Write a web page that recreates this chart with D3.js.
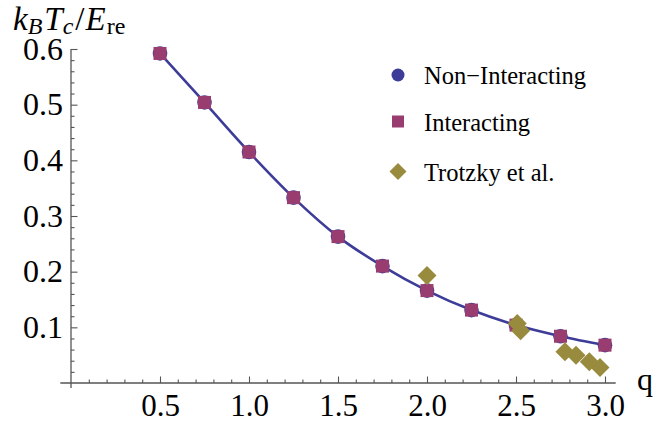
<!DOCTYPE html>
<html>
<head>
<meta charset="utf-8">
<script src="https://cdn.jsdelivr.net/npm/d3@7"></script>
<style>
  body { margin: 0; background: #fff; }
  svg { display: block; }
</style>
</head>
<body>
<svg></svg>
<script>
const width = 653;
const height = 427;
const serif = 'Liberation Serif';

// data
const qValues = [0.5, 0.75, 1.0, 1.25, 1.5, 1.75, 2.0, 2.25, 2.5, 2.75, 3.0];
const nonInteracting = [0.592, 0.504, 0.415, 0.333, 0.263, 0.210, 0.166, 0.131, 0.104, 0.084, 0.068];
const interacting = [0.592, 0.504, 0.415, 0.333, 0.263, 0.210, 0.166, 0.131, 0.104, 0.084, 0.068];
const trotzkyQ = [2.0, 2.507, 2.526, 2.775, 2.837, 2.912, 2.972];
const trotzkyT = [0.193, 0.107, 0.094, 0.056, 0.050, 0.038, 0.028];
const xTicks = [0.5, 1.0, 1.5, 2.0, 2.5, 3.0];
const yTicks = [0.1, 0.2, 0.3, 0.4, 0.5, 0.6];
const legendLabels = ['Non\u2212Interacting', 'Interacting', 'Trotzky et al.'];

const blue = '#3d3d99';
const purple = '#993d71';
const olive = '#998b3d';
const axisColor = '#555';

const svg = d3.select('svg')
	.attr('width', width)
	.attr('height', height)
	.attr('font-family', serif);

const x = d3.scaleLinear().domain([0, 3]).range([71, 605]);
const y = d3.scaleLinear().domain([0, 0.6]).range([383, 49]);

// axis lines
svg.append('line')
	.attr('x1', x(-0.06)).attr('x2', x(3.06))
	.attr('y1', y(0)).attr('y2', y(0))
	.attr('stroke', axisColor).attr('stroke-width', 1.3);
svg.append('line')
	.attr('x1', x(0)).attr('x2', x(0))
	.attr('y1', y(-0.009)).attr('y2', y(0.6))
	.attr('stroke', axisColor).attr('stroke-width', 1.3);

const xMinor = d3.range(1, 31).map(d => d / 10).filter(d => Math.abs(d * 2 - Math.round(d * 2)) > 1e-6);
const yMinor = d3.range(1, 30).map(d => d / 50).filter(d => Math.abs(d * 10 - Math.round(d * 10)) > 1e-6);

function styleAxis(g, fontSize) {
	g.attr('font-family', serif).attr('font-size', fontSize);
	g.select('.domain').remove();
	g.selectAll('.tick line').attr('stroke', axisColor).attr('stroke-width', 1.1);
	g.selectAll('.tick text').attr('fill', '#000');
}

svg.append('g')
	.attr('transform', `translate(0,${y(0)})`)
	.call(d3.axisBottom(x).tickValues(xMinor).tickSize(-3.5).tickFormat(''))
	.call(g => styleAxis(g, 31));

svg.append('g')
	.attr('transform', `translate(0,${y(0)})`)
	.call(d3.axisBottom(x).tickValues(xTicks).tickSize(-6.5).tickPadding(11).tickFormat(d3.format('.1f')))
	.call(g => styleAxis(g, 31));

svg.append('g')
	.attr('transform', `translate(${x(0)},0)`)
	.call(d3.axisLeft(y).tickValues(yMinor).tickSize(-3.5).tickFormat(''))
	.call(g => styleAxis(g, 32));

svg.append('g')
	.attr('transform', `translate(${x(0)},0)`)
	.call(d3.axisLeft(y).tickValues(yTicks).tickSize(-6.5).tickPadding(8).tickFormat(d3.format('.1f')))
	.call(g => styleAxis(g, 32));

// axis titles
const title = svg.append('text')
	.attr('x', 13)
	.attr('y', 30)
	.attr('font-family', serif)
	.attr('font-size', 33);
title.append('tspan').attr('font-style', 'italic').text('k');
title.append('tspan').attr('font-style', 'italic').attr('font-size', 24).attr('dy', 4).text('B');
title.append('tspan').attr('font-style', 'italic').attr('dx', 2).attr('dy', -4).text('T');
title.append('tspan').attr('font-style', 'italic').attr('font-size', 24).attr('dy', 4).text('c');
title.append('tspan').attr('dx', 2).attr('dy', -4).text('/');
title.append('tspan').attr('font-style', 'italic').attr('dx', 1).text('E');
title.append('tspan').attr('font-size', 24).attr('dx', 1).attr('dy', 4).text('re');

svg.append('text')
	.attr('x', 637)
	.attr('y', 390)
	.attr('font-family', serif)
	.attr('font-size', 32)
	.text('q');

// curve through the non-interacting values
const pts = qValues.map((q, i) => ({ q, v: nonInteracting[i] }));
const line = d3.line()
	.x(d => x(d.q))
	.y(d => y(d.v))
	.curve(d3.curveMonotoneX);

svg.append('path')
	.datum(pts)
	.attr('d', line)
	.attr('fill', 'none')
	.attr('stroke', blue)
	.attr('stroke-width', 2.6);

svg.append('g').selectAll('circle')
	.data(pts)
	.enter().append('circle')
		.attr('cx', d => x(d.q))
		.attr('cy', d => y(d.v))
		.attr('r', 7.3)
		.attr('fill', blue);

const sq = 13;
svg.append('g').selectAll('rect')
	.data(qValues.map((q, i) => ({ q, v: interacting[i] })))
	.enter().append('rect')
		.attr('x', d => x(d.q) - sq / 2)
		.attr('y', d => y(d.v) - sq / 2)
		.attr('width', sq)
		.attr('height', sq)
		.attr('fill', purple);

const dm = 9.5;
const diamond = (cx, cy, r) => `M${cx},${cy - r}L${cx + r},${cy}L${cx},${cy + r}L${cx - r},${cy}Z`;
svg.append('g').selectAll('path')
	.data(trotzkyQ.map((q, i) => ({ q, v: trotzkyT[i] })))
	.enter().append('path')
		.attr('d', d => diamond(x(d.q), y(d.v), dm))
		.attr('fill', olive);

// legend
const legendY = [75, 121.5, 171.5];
const legend = svg.append('g');
legend.append('circle').attr('cx', 398).attr('cy', legendY[0]).attr('r', 6.5).attr('fill', blue);
legend.append('rect').attr('x', 392).attr('y', legendY[1] - 6).attr('width', 12).attr('height', 12).attr('fill', purple);
legend.append('path').attr('d', diamond(398, legendY[2], 8.5)).attr('fill', olive);
legend.selectAll('text')
	.data(legendLabels)
	.enter().append('text')
		.attr('x', 424)
		.attr('y', (d, i) => legendY[i] + 9)
		.attr('font-family', serif)
		.attr('font-size', 24.5)
		.text(d => d);
</script>
</body>
</html>
